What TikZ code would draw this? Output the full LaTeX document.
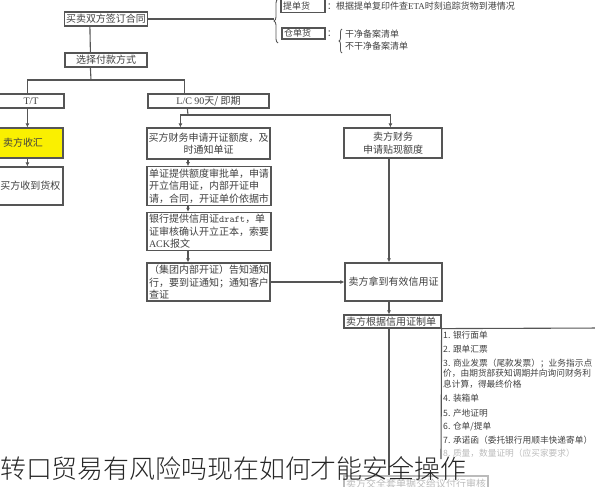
\documentclass[tikz,border=0pt]{standalone}
\usepackage{fontspec}
\setmainfont{Liberation Serif}
\newfontfamily\cjk{Noto Sans CJK SC}
\newfontfamily\cjklight{Noto Sans CJK SC Light}
\usetikzlibrary{arrows.meta,decorations.pathreplacing,calc}
\definecolor{bordergray}{HTML}{555555}
\definecolor{txtgray}{HTML}{404040}
\definecolor{fadegray}{HTML}{BBBBBB}
\definecolor{hl}{RGB}{250,240,0}
\begin{document}
\begin{tikzpicture}[x=1pt,y=-1pt,
  box/.style={draw=bordergray,line width=1.2pt,fill=white,inner sep=1.5pt,text=txtgray,font=\cjk\fontsize{10}{12.5}\selectfont},
  txt/.style={inner sep=0pt,text=txtgray,font=\cjk\fontsize{9}{11}\selectfont},
  item/.style={inner sep=0pt,anchor=west,text=txtgray,font=\cjk\fontsize{8.7}{10}\selectfont},
  conn/.style={draw=bordergray,line width=1.1pt},
  arr/.style={conn,-{Latex[length=4pt,width=4pt]}},
]
\useasboundingbox (0,0) rectangle (595,487);

% --- top: contract and goods types
\node[box,minimum width=82pt,minimum height=14pt] (contract) at (106,19) {买卖双方签订合同};
\node[box,font=\cjk\fontsize{9}{11}\selectfont,minimum width=44pt,minimum height=13pt,text width=40pt,inner sep=2pt,align=left] (bill) at (303,6) {提单货};
\node[txt,anchor=west] (billtxt) at (327,6) {：根据提单复印件查{\rmfamily ETA}时刻追踪货物到港情况};
\node[box,font=\cjk\fontsize{9}{11}\selectfont,minimum width=43pt,minimum height=11pt,text width=39pt,inner sep=1pt,align=left] (wh) at (303.5,33.5) {仓单货};
\node[txt,anchor=west] (colon) at (327,34) {：};
\node[txt,anchor=west] (clean) at (345,34) {干净备案清单};
\node[txt,anchor=west] (unclean) at (345,46) {不干净备案清单};
\coordinate (b1tip) at (274,19);
\draw[conn,line width=0.9pt,decorate,decoration={brace,amplitude=4pt}] (278,43) -- (278,-1);
\draw[conn,line width=0.8pt,decorate,decoration={brace,amplitude=3pt}] (342,53) -- (342,29);
\draw[conn] (contract.east) -- (b1tip);

% --- payment method
\node[box,minimum width=82pt,minimum height=14pt] (pay) at (106,60) {选择付款方式};
\draw[conn] ([xshift=26pt]contract.south west) -- ([xshift=26pt]pay.north west);
\coordinate (sp) at (91,80);
\node[box,minimum width=66pt,minimum height=14pt] (tt) at (31,101) {\rmfamily T/T};
\node[box,minimum width=121pt,minimum height=14pt] (lc) at (208.5,101) {{\rmfamily L/C 90}天/ 即期};
\draw[conn] ([xshift=26pt]pay.south west) -- (sp);
\draw[conn] ([xshift=30pt]tt.north west) |- (sp) -| ([xshift=37pt]lc.north west);

% --- T/T branch
\node[box,fill=hl,minimum width=65pt,minimum height=30pt,text width=55pt,inner sep=5pt,align=left] (recv) at (30.5,143) {卖方收汇};
\node[box,minimum width=65pt,minimum height=38pt] (goods) at (30.5,186) {买方收到货权};
\draw[arr] ([xshift=30pt]tt.south west) -- ([xshift=30pt]recv.north west);
\draw[arr] ([xshift=30pt]recv.south west) -- ([xshift=30pt]goods.north west);

% --- L/C branch
\coordinate (lsp) at (188,115);
\coordinate (colx) at (188,0);
\coordinate (colx2) at (389,0);
\node[box,minimum width=121pt,minimum height=31pt,align=center] (applyb) at (208.5,143.5) {买方财务申请开证额度，及\\时通知单证};
\node[box,minimum width=98pt,minimum height=30pt,align=center] (discount) at (393,143) {卖方财务\\申请贴现额度};
\draw[conn] ([xshift=40pt]lc.south west) -- (lsp);
\draw[arr] (lsp) -| ([xshift=34pt]applyb.north west);
\draw[arr] (lsp) -| ([xshift=47pt]discount.north west);

\node[box,minimum height=38pt,text width=120pt,inner sep=2pt,align=left] (approval) at (209,186) {单证提供额度审批单，申请\\开立信用证，内部开证申\\请，合同，开证单价依据市};
\node[box,minimum height=37pt,text width=120pt,inner sep=2pt,align=left] (draftb) at (209,231.5) {银行提供信用证{\ttfamily draft}，单\\证审核确认开立正本，索要\\{\rmfamily ACK}报文};
\node[box,minimum height=38pt,text width=119pt,inner sep=2pt,align=left] (notify) at (208.5,282) {（集团内部开证）告知通知\\行，要到证通知；通知客户\\查证};
\draw[arr] (applyb.south -| colx) -- (approval.north -| colx);
\draw[arr] (approval.south -| colx) -- (draftb.north -| colx);
\draw[arr] (draftb.south -| colx) -- (notify.north -| colx);

\node[box,minimum width=97pt,minimum height=38pt] (valid) at (393.5,282) {卖方拿到有效信用证};
\draw[arr] (notify.east) -- (valid.west);
\draw[arr] (discount.south -| colx2) -- (valid.north -| colx2);

\node[box,minimum width=97pt,minimum height=13pt,text width=93pt,inner sep=1pt,align=left] (make) at (392.5,321.5) {卖方根据信用证制单};
\draw[arr] (valid.south -| colx2) -- (make.north -| colx2);

% --- documents list
\draw[conn] (441,459) -- (make.south east) -- (605,328);
\node[item] (d1) at (443,335) {1. 银行面单};
\node[item] (d2) at (443,349) {2. 跟单汇票};
\node[item] (d3) at (443,363) {3. 商业发票（尾款发票）；业务指示点};
\node[item] (d3b) at (443,373.5) {价，由期货部获知调期并向询问财务利};
\node[item] (d3c) at (443,384) {息计算，得最终价格};
\node[item] (d4) at (443,398) {4. 装箱单};
\node[item] (d5) at (443,413) {5. 产地证明};
\node[item] (d6) at (443,427) {6. 仓单/提单};
\node[item] (d7) at (443,440) {7. 承诺函（委托银行用顺丰快递寄单）};
\node[item,text=fadegray] (d8) at (443,453) {8. 质量，数量证明（应买家要求）};

% --- final faded box
\node[box,draw=fadegray,text=fadegray,minimum width=144pt,minimum height=16pt] (final) at (416,484) {卖方交全套单据交给议付行审核};
\draw[conn] (make.south -| colx2) -- (final.north -| colx2);

% --- overlay title
\node[anchor=base west,inner sep=0pt,font=\cjklight\fontsize{25.9}{28}\selectfont,text=black!85] (title) at (0,478) {转口贸易有风险吗现在如何才能安全操作};
\end{tikzpicture}
\end{document}
